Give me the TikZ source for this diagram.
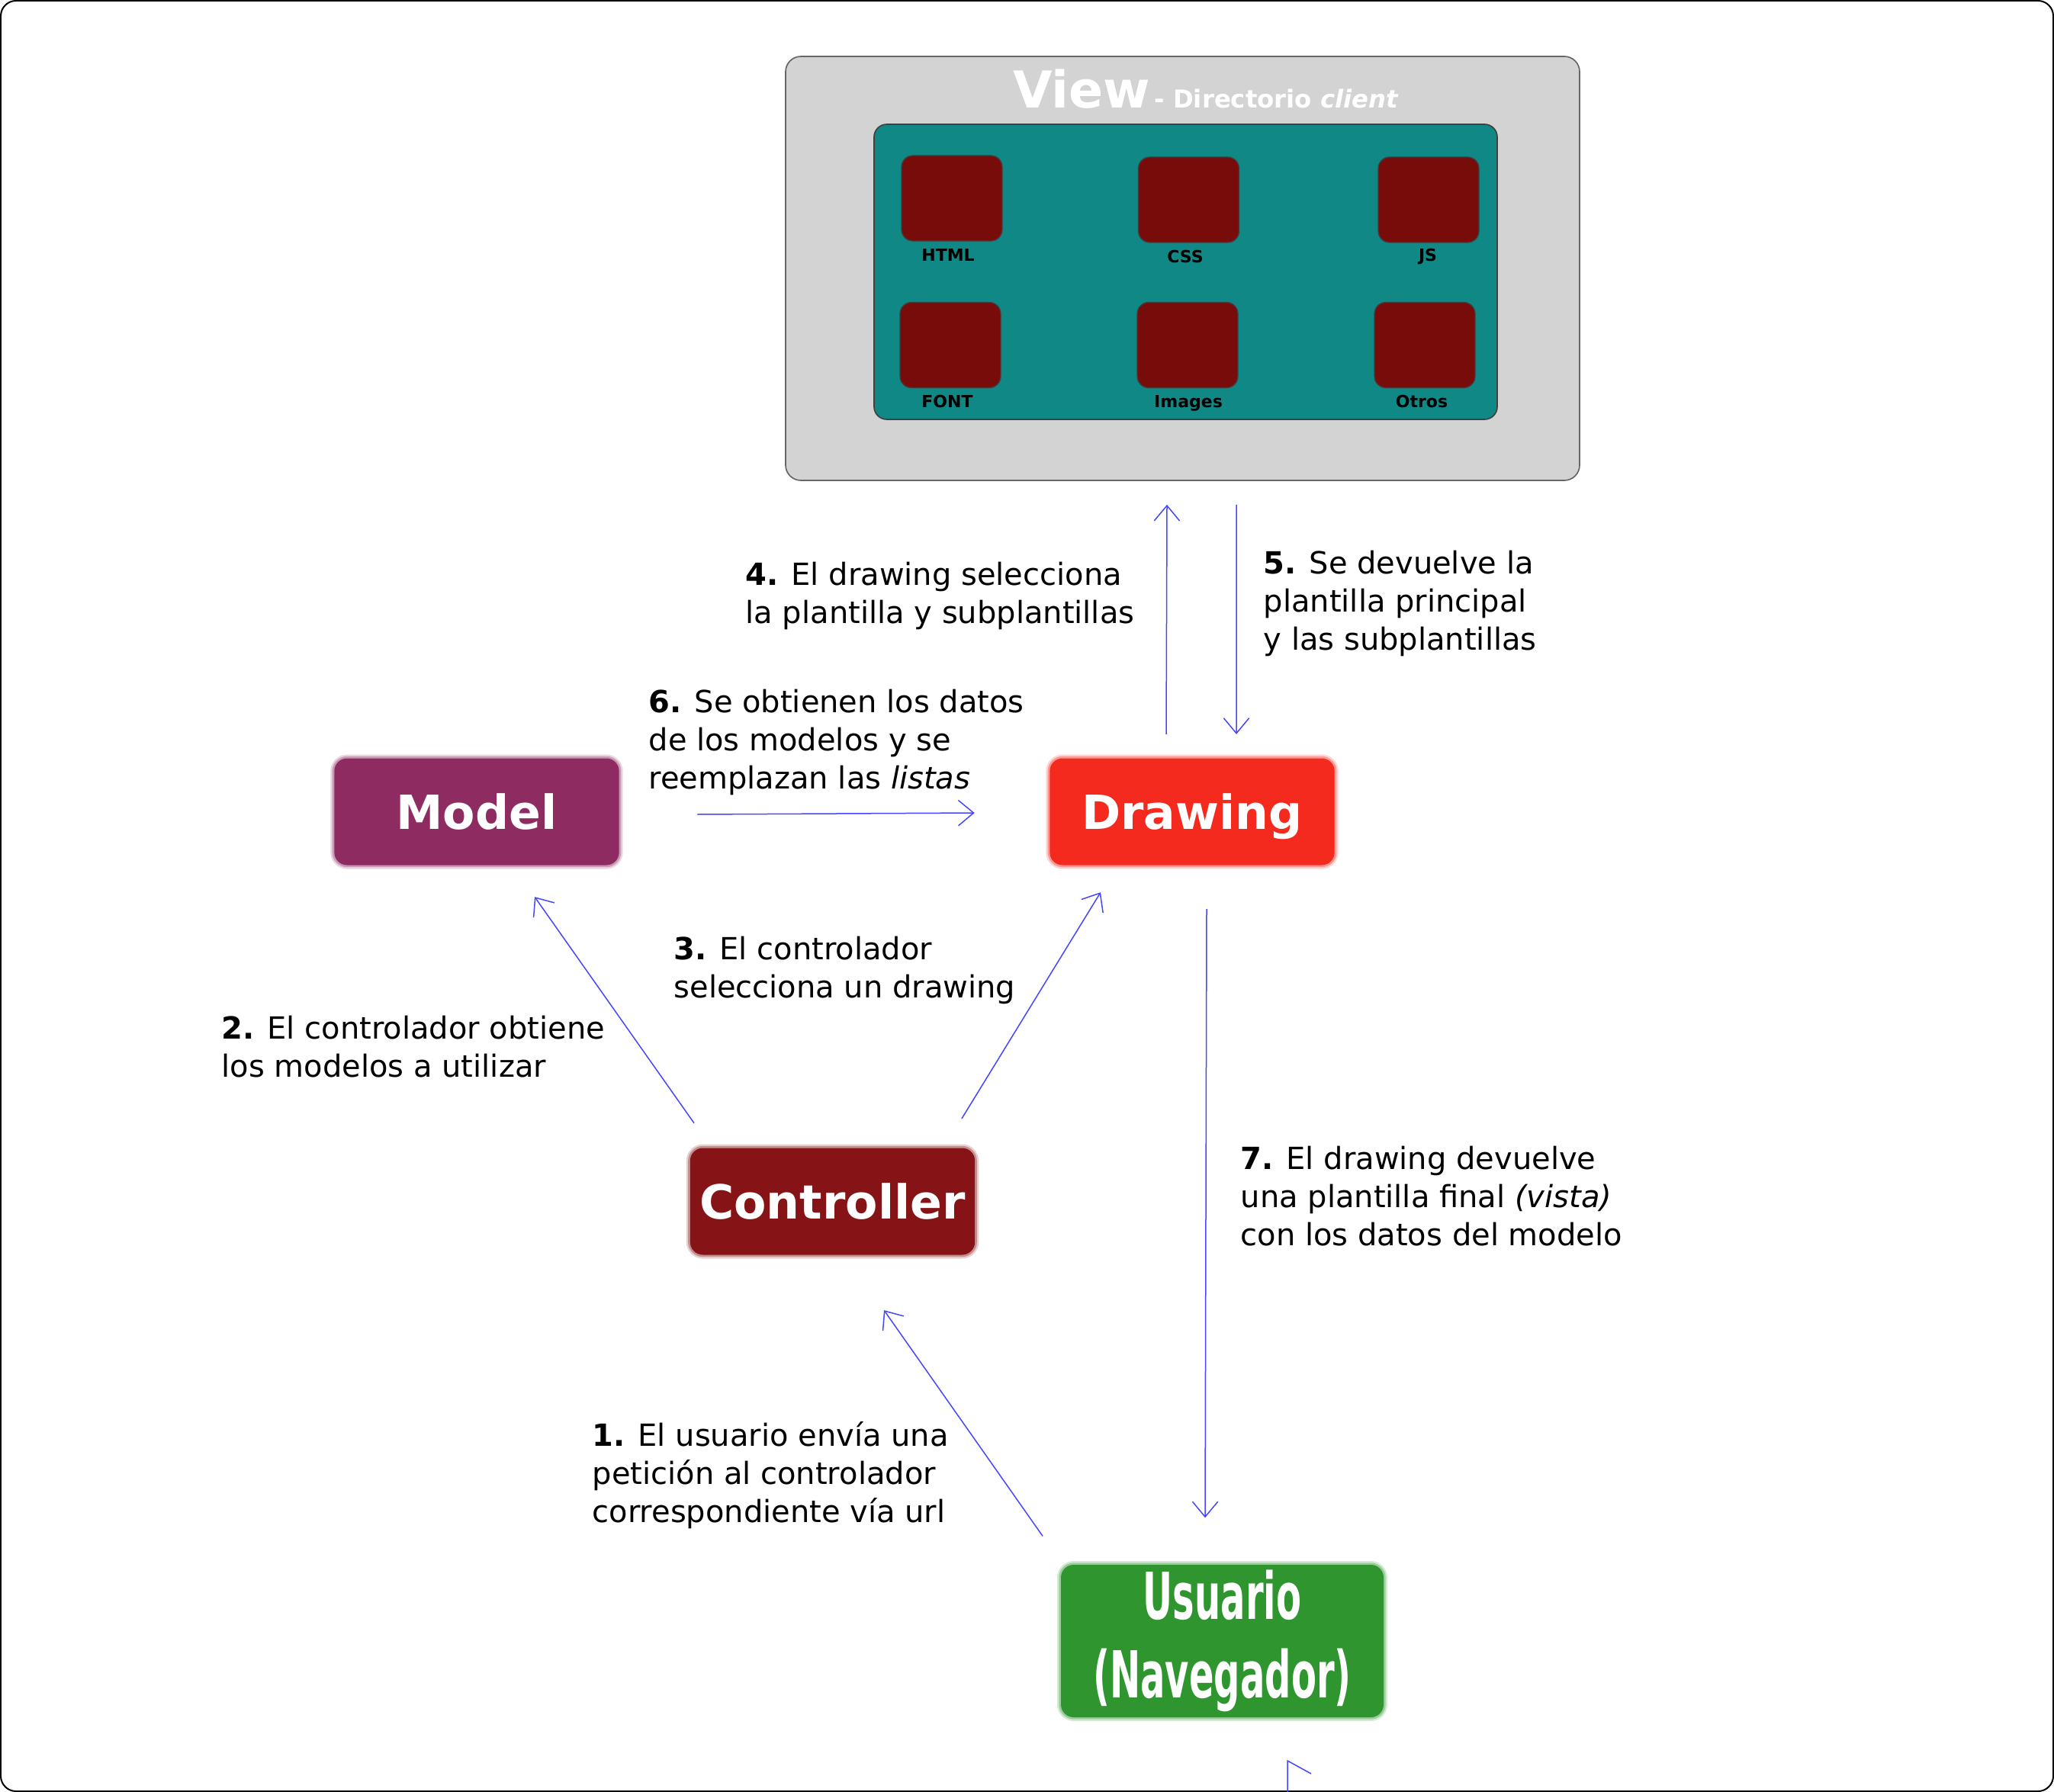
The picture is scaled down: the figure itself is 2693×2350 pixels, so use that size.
\documentclass[tikz,border=0pt]{standalone}
\usepackage{fontspec}
\setmainfont{DejaVu Sans}
\usetikzlibrary{arrows.meta,calc}
\definecolor{modelc}{HTML}{8E2C62}
\definecolor{drawc}{HTML}{F42A1F}
\definecolor{ctrlc}{HTML}{861416}
\definecolor{userc}{HTML}{2E952F}
\definecolor{viewbg}{HTML}{D3D3D3}
\definecolor{tealc}{HTML}{108886}
\definecolor{filec}{HTML}{780C0A}
\definecolor{arrc}{HTML}{4646FF}
\begin{document}
\begin{tikzpicture}[x=0.3pt,y=-0.3pt,
 mainbox/.style={rounded corners=5pt, minimum width=112pt, minimum height=42pt, inner sep=0, text=white,
   font=\fontsize{18.5}{22}\selectfont\bfseries, fill=#1,
   preaction={draw=#1, draw opacity=0.2, line width=3pt},
   preaction={draw=#1, draw opacity=0.35, line width=1.6pt}},
 filebox/.style={rounded corners=4.5pt, fill=filec, draw=black!75, line width=0.4pt, minimum width=39.6pt, minimum height=33.6pt, inner sep=0},
 filelabel/.style={font=\fontsize{6.6}{8}\selectfont\bfseries, inner sep=0, anchor=base},
 lbl/.style={align=left, anchor=base west, inner sep=0, font=\fontsize{12}{15}\selectfont},
 arr/.style={draw=arrc, line width=0.45pt, -{Straight Barb[length=6pt,width=10pt]}}]
\useasboundingbox (0,0) rectangle (2693,2350);
\draw[rounded corners=6pt, line width=0.6pt] (1,1) rectangle (2692,2349);

% View
\node[draw=black!60, fill=viewbg, rounded corners=6pt, line width=0.5pt, minimum width=312.3pt, minimum height=166.8pt, inner sep=0] (view) at (1550.5,352) {};
\node[anchor=base, inner sep=0, text=white, font=\bfseries] (viewtitle) at (1581,142)
  {{\fontsize{20}{24}\selectfont View}{\fontsize{9.7}{12}\selectfont\,- Directorio \textit{client}}};
\node[draw=black!75, fill=tealc, rounded corners=5pt, line width=0.5pt, minimum width=245.1pt, minimum height=116.1pt, inner sep=0] (teal) at (1554.5,356.5) {};

\node[filebox] (html) at (1248,260) {};
\node[filebox] (css) at (1558.5,262) {};
\node[filebox] (js) at (1873,262) {};
\node[filebox] (font) at (1246,452.5) {};
\node[filebox] (img) at (1557,452.5) {};
\node[filebox] (otros) at (1868,452.5) {};
\node[filelabel] (lhtml) at (1243,343) {HTML};
\node[filelabel] (lcss) at (1554,345) {CSS};
\node[filelabel] (ljs) at (1872,343) {JS};
\node[filelabel] (lfont) at (1242,535) {FONT};
\node[filelabel] (limg) at (1558,535) {Images};
\node[filelabel] (lotros) at (1864,535) {Otros};

% main nodes
\node[mainbox=modelc] (model) at (625,1064.5) {Model};
\node[mainbox=drawc, text height=13.5pt, text depth=-2.7pt] (drawing) at (1563,1064.5) {Drawing};
\node[mainbox=ctrlc] (ctrl) at (1091.5,1575.5) {Controller};
\node[mainbox=userc, minimum width=126.9pt, minimum height=60pt, font=\fontsize{25.5}{31}\selectfont\bfseries, align=center] (user) at (1602.5,2152)
  {\scalebox{0.565}[1]{Usuario}\\\scalebox{0.565}[1]{(Navegador)}};

% arrows
\coordinate (a4s) at ($(drawing.north)+(-34,-31)$);
\coordinate (a4e) at ($(view.south)+(-20.5,31)$);
\coordinate (a5s) at ($(view.south)+(70.5,31)$);
\coordinate (a5e) at ($(drawing.north)+(58,-31)$);
\coordinate (a6s) at ($(model.east)+(102,3.5)$);
\coordinate (a6e) at ($(drawing.west)+(-98,1.5)$);
\coordinate (a2s) at ($(ctrl.north)+(-181.5,-32)$);
\coordinate (a2e) at ($(model.south)+(76,41)$);
\coordinate (a3s) at ($(ctrl.north)+(169.5,-38)$);
\coordinate (a3e) at ($(drawing.south)+(-120,35)$);
\coordinate (a7s) at ($(drawing.south)+(19,57)$);
\coordinate (a7e) at ($(user.north)+(-22.5,-61)$);
\coordinate (a1s) at ($(user.north)+(-235.5,-37)$);
\coordinate (a1e) at ($(ctrl.south)+(67.5,72)$);
\draw[arr] (a4s) -- (a4e);
\draw[arr] (a5s) -- (a5e);
\draw[arr] (a6s) -- (a6e);
\draw[arr] (a2s) -- (a2e);
\draw[arr] (a3s) -- (a3e);
\draw[arr] (a7s) -- (a7e);
\draw[arr] (a1s) -- (a1e);
\coordinate (b0) at (1688,2350);
\coordinate (b1) at (1688,2309);
\coordinate (b2) at (1719,2326);
\draw[draw=arrc, line width=0.45pt] (b0) -- (b1) -- (b2);

% labels (anchor = baseline of last line)
\node[lbl] (l4) at (977,817) {\textbf{4.} El drawing selecciona\\la plantilla y subplantillas};
\node[lbl] (l5) at (1656,852) {\textbf{5.} Se devuelve la\\plantilla principal\\y las subplantillas};
\node[lbl] (l6) at (850,1034) {\textbf{6.} Se obtienen los datos\\de los modelos y se\\reemplazan las \textit{listas}};
\node[lbl] (l3) at (883,1308) {\textbf{3.} El controlador\\selecciona un drawing};
\node[lbl] (l2) at (290,1412) {\textbf{2.} El controlador obtiene\\los modelos a utilizar};
\node[lbl] (l7) at (1626,1633) {\textbf{7.} El drawing devuelve\\una plantilla final \textit{(vista)}\\con los datos del modelo};
\node[lbl] (l1) at (776,1996) {\textbf{1.} El usuario envía una\\petición al controlador\\correspondiente vía url};
\end{tikzpicture}
\end{document}
